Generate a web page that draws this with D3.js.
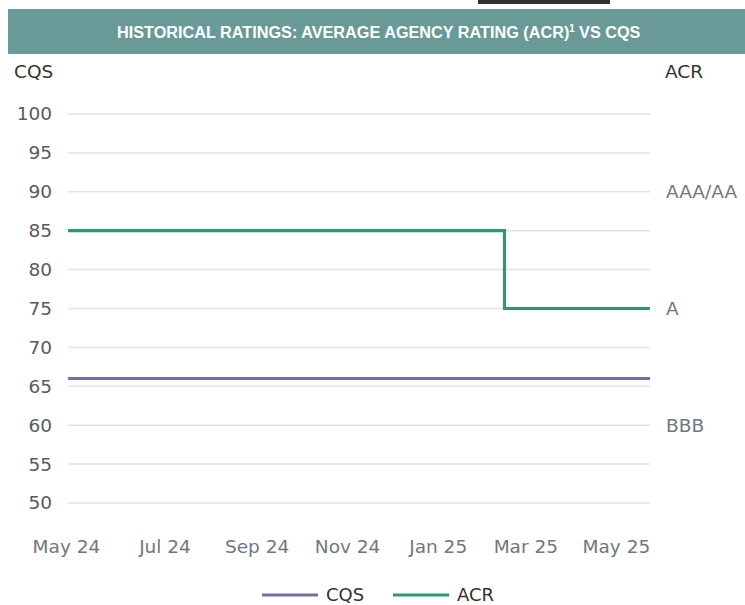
<!DOCTYPE html>
<html>
<head>
<meta charset="utf-8">
<script src="https://cdn.jsdelivr.net/npm/d3@7"></script>
<style>
  body { margin: 0; background: #fff; }
  svg { display: block; font-family: "DejaVu Sans", sans-serif; }
</style>
</head>
<body>
<div id="chart"></div>
<script>
// -- data --
const titleText = "HISTORICAL RATINGS: AVERAGE AGENCY RATING (ACR)";
const cqsDates = ["2024-04-27", "2025-05-24"];
const cqsValues = [66, 66];
const acrDates = ["2024-04-27", "2025-02-15", "2025-05-24"];
const acrValues = [85, 75, 75];
const yTicks = [50, 55, 60, 65, 70, 75, 80, 85, 90, 95, 100];
const xTickDates = ["2024-05-01", "2024-07-01", "2024-09-01", "2024-11-01", "2025-01-01", "2025-03-01", "2025-05-01"];
const ratingLabels = ["AAA/AA", "A", "BBB"];
const ratingLevels = [90, 75, 60];

const parse = d3.timeParse("%Y-%m-%d");

const theme = {
  cqs: "#7d6aa0",
  acr: "#2f9873",
  grid: "#e1e4e9",
  banner: "#6a9a98",
  tick: "#555b61",
  tickX: "#6f7880"
};

const W = 745, H = 605;
const plot = { left: 68, right: 650, top: 114, bottom: 503 };

const svg = d3.select("#chart").append("svg")
  .attr("width", W)
  .attr("height", H);

// little dark tab at the top + banner
svg.append("rect").attr("x", 478).attr("y", 0).attr("width", 132).attr("height", 4).attr("fill", "#333");
svg.append("rect").attr("x", 8).attr("y", 9).attr("width", W - 8).attr("height", 45).attr("fill", theme.banner);

const title = svg.append("text")
  .attr("x", 117).attr("y", 38)
  .attr("fill", "#fff")
  .attr("font-family", "'Liberation Sans Narrow', 'Liberation Sans', sans-serif")
  .attr("font-weight", "bold")
  .attr("font-size", 17);
title.append("tspan").text(titleText);
title.append("tspan").attr("font-size", 10).attr("dy", -6).text("1");
title.append("tspan").attr("dy", 6).text(" VS CQS");
// squeeze to the width of the original banner text
const tw = title.node().getComputedTextLength();
title.attr("transform", `translate(117,0) scale(${524 / tw},1) translate(-117,0)`);

// scales
const x = d3.scaleTime()
  .domain([parse(cqsDates[0]), parse(cqsDates[1])])
  .range([plot.left, plot.right]);
const y = d3.scaleLinear()
  .domain([50, 100])
  .range([plot.bottom, plot.top]);

// grid
svg.append("g")
  .selectAll("line")
  .data(yTicks)
  .join("line")
  .attr("x1", plot.left).attr("x2", plot.right)
  .attr("y1", d => y(d)).attr("y2", d => y(d))
  .attr("stroke", theme.grid)
  .attr("stroke-width", 1.5);

// left axis
const yAxis = svg.append("g")
  .attr("transform", `translate(${plot.left},0)`)
  .call(d3.axisLeft(y).tickValues(yTicks).tickSize(0).tickPadding(16));
yAxis.select(".domain").remove();
yAxis.selectAll("text")
  .attr("font-size", 18.5)
  .attr("font-family", "'DejaVu Sans', sans-serif")
  .attr("fill", theme.tick);

// right rating labels
const yRight = d3.scaleOrdinal().domain(ratingLevels).range(ratingLabels);
svg.append("g")
  .selectAll("text")
  .data(ratingLevels)
  .join("text")
  .attr("x", 666)
  .attr("y", d => y(d))
  .attr("dy", "0.35em")
  .attr("font-size", 18.5)
  .attr("fill", theme.tickX)
  .text(d => yRight(d));

// axis titles
svg.append("text").attr("x", 14).attr("y", 78).attr("font-size", 18.5).attr("fill", "#333").text("CQS");
svg.append("text").attr("x", 665).attr("y", 78).attr("font-size", 18.5).attr("fill", "#333").text("ACR");

// bottom axis
const xAxis = svg.append("g")
  .attr("transform", `translate(0,${plot.bottom})`)
  .call(d3.axisBottom(x)
    .tickValues(xTickDates.map(parse))
    .tickFormat(d3.timeFormat("%b %y"))
    .tickSize(0)
    .tickPadding(37));
xAxis.select(".domain").remove();
xAxis.selectAll("text")
  .attr("font-size", 18.5)
  .attr("font-family", "'DejaVu Sans', sans-serif")
  .attr("fill", theme.tickX);
// first label sits a little to the left, like the original
xAxis.select(".tick:first-of-type text").attr("dx", -8);

// lines
const line = d3.line()
  .x(d => x(d.date))
  .y(d => y(d.value))
  .curve(d3.curveStepAfter);

const cqsData = cqsDates.map((d, i) => ({ date: parse(d), value: cqsValues[i] }));
const acrData = acrDates.map((d, i) => ({ date: parse(d), value: acrValues[i] }));

svg.append("path").datum(cqsData)
  .attr("d", line)
  .attr("fill", "none")
  .attr("stroke", theme.cqs)
  .attr("stroke-width", 3.2);

svg.append("path").datum(acrData)
  .attr("d", line)
  .attr("fill", "none")
  .attr("stroke", theme.acr)
  .attr("stroke-width", 3.2);

// legend
const legend = [
  { name: "CQS", color: theme.cqs, x: 262 },
  { name: "ACR", color: theme.acr, x: 393 }
];
const lg = svg.append("g").selectAll("g").data(legend).join("g")
  .attr("transform", d => `translate(${d.x},595)`);
lg.append("line").attr("x1", 0).attr("x2", 56).attr("stroke", d => d.color).attr("stroke-width", 3);
lg.append("text").attr("x", 64).attr("dy", "0.35em").attr("font-size", 18).attr("fill", "#333").text(d => d.name);
</script>
</body>
</html>
